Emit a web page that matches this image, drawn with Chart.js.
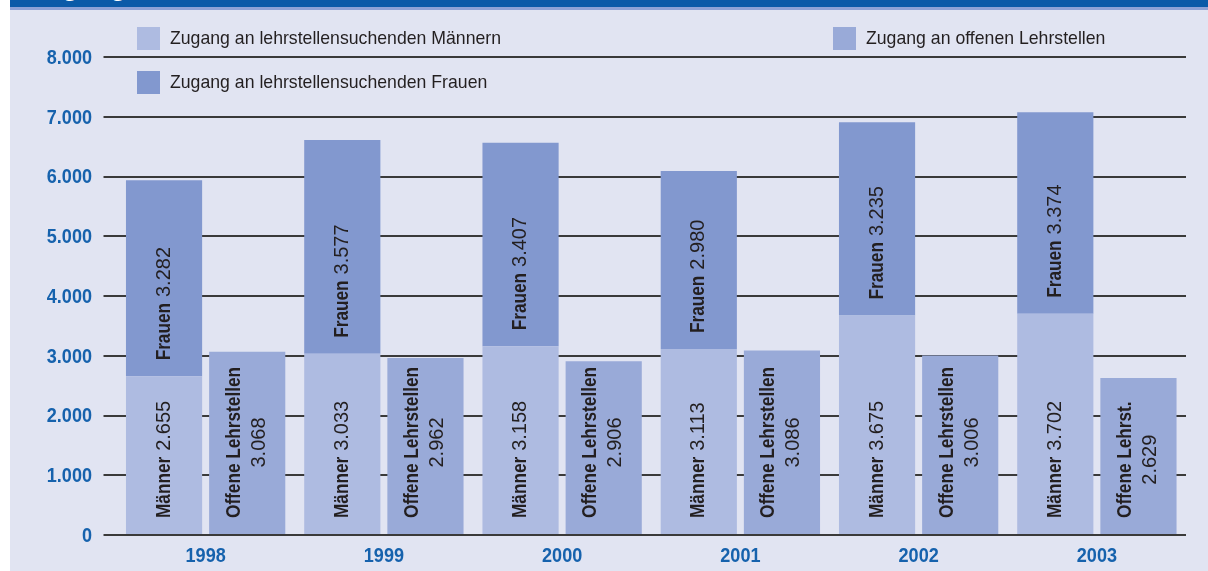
<!DOCTYPE html>
<html>
<head>
<meta charset="utf-8">
<title>Zugang an Lehrstellensuchenden und offenen Lehrstellen</title>
<script src="https://cdn.jsdelivr.net/npm/chart.js@4/dist/chart.umd.min.js"></script>
<style>
  html, body { margin: 0; padding: 0; background: #fff; }
  body { width: 1208px; height: 571px; position: relative; overflow: hidden; }
  .titlebar { position: absolute; left: 10px; top: 0; width: 1198px; height: 7px; background: #0a5aa8; border-bottom: 3px solid #8da2d6; overflow: hidden; }
  .titlebar span { position: absolute; left: 19px; top: -29px; font: bold 27px "Liberation Sans", Arial, sans-serif; color: #fff; white-space: nowrap; }
  .wrap { position: absolute; left: 10px; top: 10px; width: 1198px; height: 561px; background: #e1e4f2; }
</style>
</head>
<body>
<div class="titlebar"><span>Zugang</span></div>
<div class="wrap"><canvas id="chart" width="1198" height="561"></canvas></div>

<script>
  const years = ['1998', '1999', '2000', '2001', '2002', '2003'];
  const maenner = [2655, 3033, 3158, 3113, 3675, 3702];
  const frauen = [3282, 3577, 3407, 2980, 3235, 3374];
  const offene = [3068, 2962, 2906, 3086, 3006, 2629];
  const offeneNames = ['Offene Lehrstellen', 'Offene Lehrstellen', 'Offene Lehrstellen', 'Offene Lehrstellen', 'Offene Lehrstellen', 'Offene Lehrst.'];
  const seriesNames = ['Zugang an lehrstellensuchenden Männern', 'Zugang an lehrstellensuchenden Frauen', 'Zugang an offenen Lehrstellen'];

  const blue = '#1662ad';
  const ink = '#231f20';
  const SANS = '"Liberation Sans", Arial, sans-serif';
  const SX = 0.86; // squeeze Liberation Sans to look like a condensed face

  function fmt(n) {
    return String(n).replace(/\B(?=(\d{3})+(?!\d))/g, '.');
  }

  // draws condensed text, returns its drawn width
  function txt(ctx, s, x, y, font, align, sx) {
    sx = sx || SX;
    ctx.save();
    ctx.font = font;
    ctx.textBaseline = 'middle';
    const w = ctx.measureText(s).width * sx;
    let x0 = x;
    if (align === 'center') x0 = x - w / 2;
    if (align === 'right') x0 = x - w;
    ctx.translate(x0, y);
    ctx.scale(sx, 1);
    ctx.textAlign = 'left';
    ctx.fillText(s, 0, 0);
    ctx.restore();
    return w;
  }

  // rotated labels inside the bars
  const barLabels = {
    id: 'barLabels',
    afterDatasetsDraw(chart) {
      const ctx = chart.ctx;
      chart.data.datasets.forEach((ds, i) => {
        const meta = chart.getDatasetMeta(i);
        meta.data.forEach((bar, j) => {
          ctx.save();
          ctx.translate(bar.x, bar.base - 16);
          ctx.rotate(-Math.PI / 2);
          ctx.fillStyle = ink;
          if (ds.stack === 'b') {
            const w = txt(ctx, offeneNames[j], 0, -13, 'bold 20px ' + SANS, 'left');
            txt(ctx, fmt(ds.data[j]), w / 2, 12, '20px ' + SANS, 'center', 1);
          } else {
            const name = i === 0 ? 'Männer' : 'Frauen';
            const w = txt(ctx, name, 0, 0, 'bold 20px ' + SANS, 'left');
            txt(ctx, fmt(ds.data[j]), w + 6, 0, '20px ' + SANS, 'left', 1);
          }
          ctx.restore();
        });
      });
    }
  };

  // axis tick labels and legend, drawn in the condensed style
  const legendPos = [[127, 17], [127, 61], [823, 17]];
  const decor = {
    id: 'decor',
    afterDraw(chart) {
      const ctx = chart.ctx;
      const xs = chart.scales.x, ys = chart.scales.y;
      ctx.save();
      ctx.fillStyle = blue;
      ys.ticks.forEach(t => {
        txt(ctx, fmt(t.value), 82, ys.getPixelForValue(t.value) + 1, 'bold 21px ' + SANS, 'right');
      });
      years.forEach((y, k) => {
        txt(ctx, y, xs.getPixelForTick(k), 546, 'bold 21px ' + SANS, 'center');
      });
      chart.data.datasets.forEach((ds, i) => {
        const [x, y] = legendPos[i];
        ctx.fillStyle = ds.backgroundColor;
        ctx.fillRect(x, y, 23, 23);
        ctx.fillStyle = ink;
        txt(ctx, seriesNames[i], x + 33, y + 12, '19px ' + SANS, 'left', 0.93);
      });
      ctx.restore();
    }
  };

  new Chart(document.getElementById('chart'), {
    type: 'bar',
    data: {
      labels: years,
      datasets: [
        { label: seriesNames[0], data: maenner, backgroundColor: '#aebbe1', stack: 'a' },
        { label: seriesNames[1], data: frauen, backgroundColor: '#8298cf', stack: 'a' },
        { label: seriesNames[2], data: offene, backgroundColor: '#99aad8', stack: 'b' }
      ]
    },
    options: {
      responsive: false,
      animation: false,
      events: [],
      layout: { padding: { top: 47, right: 22, left: 0, bottom: 0 } },
      datasets: { bar: { barPercentage: 0.916, categoryPercentage: 0.933 } },
      plugins: { legend: { display: false }, tooltip: { enabled: false } },
      scales: {
        x: {
          stacked: true,
          grid: { display: false },
          border: { display: false },
          ticks: { display: false },
          afterFit(scale) { scale.height = 36; }
        },
        y: {
          stacked: true,
          min: 0,
          max: 8000,
          border: { display: false },
          grid: { color: '#3a3a3a', lineWidth: 2, tickLength: 13, drawTicks: true },
          ticks: { display: false, stepSize: 1000 },
          afterFit(scale) { scale.width = 106.5; }
        }
      }
    },
    plugins: [barLabels, decor]
  });
</script>
</body>
</html>
